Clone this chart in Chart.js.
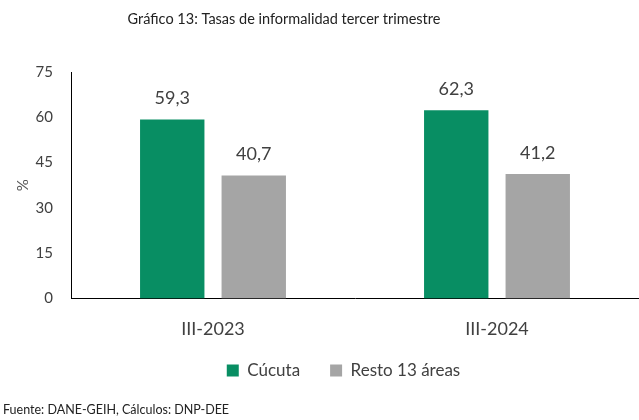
<!DOCTYPE html>
<html>
<head>
<meta charset="utf-8">
<script src="https://cdn.jsdelivr.net/npm/chart.js@4/dist/chart.umd.min.js"></script>
<style>
  html, body { margin: 0; padding: 0; background: #fff; }
  #wrap { width: 639px; height: 420px; position: relative; }
</style>
</head>
<body>
<div id="wrap"><canvas id="chart"></canvas></div>
<script>
// data
const categories = ['III-2023', 'III-2024'];
const cucuta = [59.3, 62.3];
const resto = [40.7, 41.2];
const yTicks = [0, 15, 30, 45, 60, 75];

const chartTitle = 'Gráfico 13: Tasas de informalidad tercer trimestre';
const sourceNote = 'Fuente: DANE-GEIH, Cálculos: DNP-DEE';

const FONT = 'Lato, "Open Sans", sans-serif';
const TEXT = '#404040';

// value labels above each bar
const valueLabels = {
    id: 'valueLabels',
    afterDatasetsDraw(chart) {
        const ctx = chart.ctx;
        ctx.save();
        ctx.font = '18px ' + FONT;
        ctx.fillStyle = TEXT;
        ctx.textAlign = 'center';
        ctx.textBaseline = 'bottom';
        chart.data.datasets.forEach((ds, i) => {
            chart.getDatasetMeta(i).data.forEach((bar, j) => {
                const txt = ds.data[j].toFixed(1).replace('.', ',');
                ctx.fillText(txt, bar.x, bar.y - 12);
            });
        });
        ctx.restore();
    }
};

// title (sits a bit left of centre) and source note
const headerFooter = {
    id: 'headerFooter',
    afterDraw(chart) {
        const ctx = chart.ctx;
        ctx.save();
        ctx.fillStyle = '#222';
        ctx.textBaseline = 'middle';
        ctx.font = '14.5px ' + FONT;
        ctx.textAlign = 'center';
        ctx.fillText(chartTitle, 284, 19);
        ctx.font = '12.5px ' + FONT;
        ctx.textAlign = 'left';
        ctx.fillText(sourceNote, 3, 410);
        ctx.restore();
    }
};

// nudge the legend box: a little right and up
const legendNudge = {
    id: 'legendNudge',
    afterLayout(chart) {
        const lg = chart.legend;
        if (!lg) return;
        lg.left += 20;
        lg.right += 20;
        lg.top -= 20;
        lg.bottom -= 20;
    }
};

new Chart(document.getElementById('chart'), {
    type: 'bar',
    data: {
        labels: categories,
        datasets: [
            {
                label: 'Cúcuta',
                data: cucuta,
                backgroundColor: '#088E63',
                barPercentage: 0.79,
                categoryPercentage: 0.574
            },
            {
                label: 'Resto 13 áreas',
                data: resto,
                backgroundColor: '#A5A5A5',
                barPercentage: 0.79,
                categoryPercentage: 0.574
            }
        ]
    },
    options: {
        responsive: true,
        maintainAspectRatio: false,
        animation: false,
        layout: { padding: { top: 72, right: 0, bottom: 11, left: 8 } },
        plugins: {
            title: { display: false },
            legend: {
                position: 'bottom',
                labels: {
                    font: { family: FONT, size: 17 },
                    color: TEXT,
                    boxWidth: 12,
                    boxHeight: 12,
                    padding: 30
                }
            },
            tooltip: { enabled: false }
        },
        scales: {
            x: {
                grid: { display: false },
                border: { color: '#000', width: 1 },
                ticks: {
                    font: { family: FONT, size: 18 },
                    color: TEXT,
                    padding: 12
                }
            },
            y: {
                min: 0,
                max: 75,
                afterBuildTicks(scale) {
                    scale.ticks = yTicks.map(v => ({ value: v }));
                },
                afterFit(scale) {
                    scale.width = 63;
                },
                grid: { display: false },
                border: { color: '#000', width: 1 },
                ticks: {
                    font: { family: FONT, size: 15 },
                    color: TEXT,
                    padding: 10
                },
                title: {
                    display: true,
                    text: '%',
                    font: { family: FONT, size: 15 },
                    color: '#595959',
                    padding: 6
                }
            }
        }
    },
    plugins: [valueLabels, headerFooter, legendNudge]
});
</script>
</body>
</html>
